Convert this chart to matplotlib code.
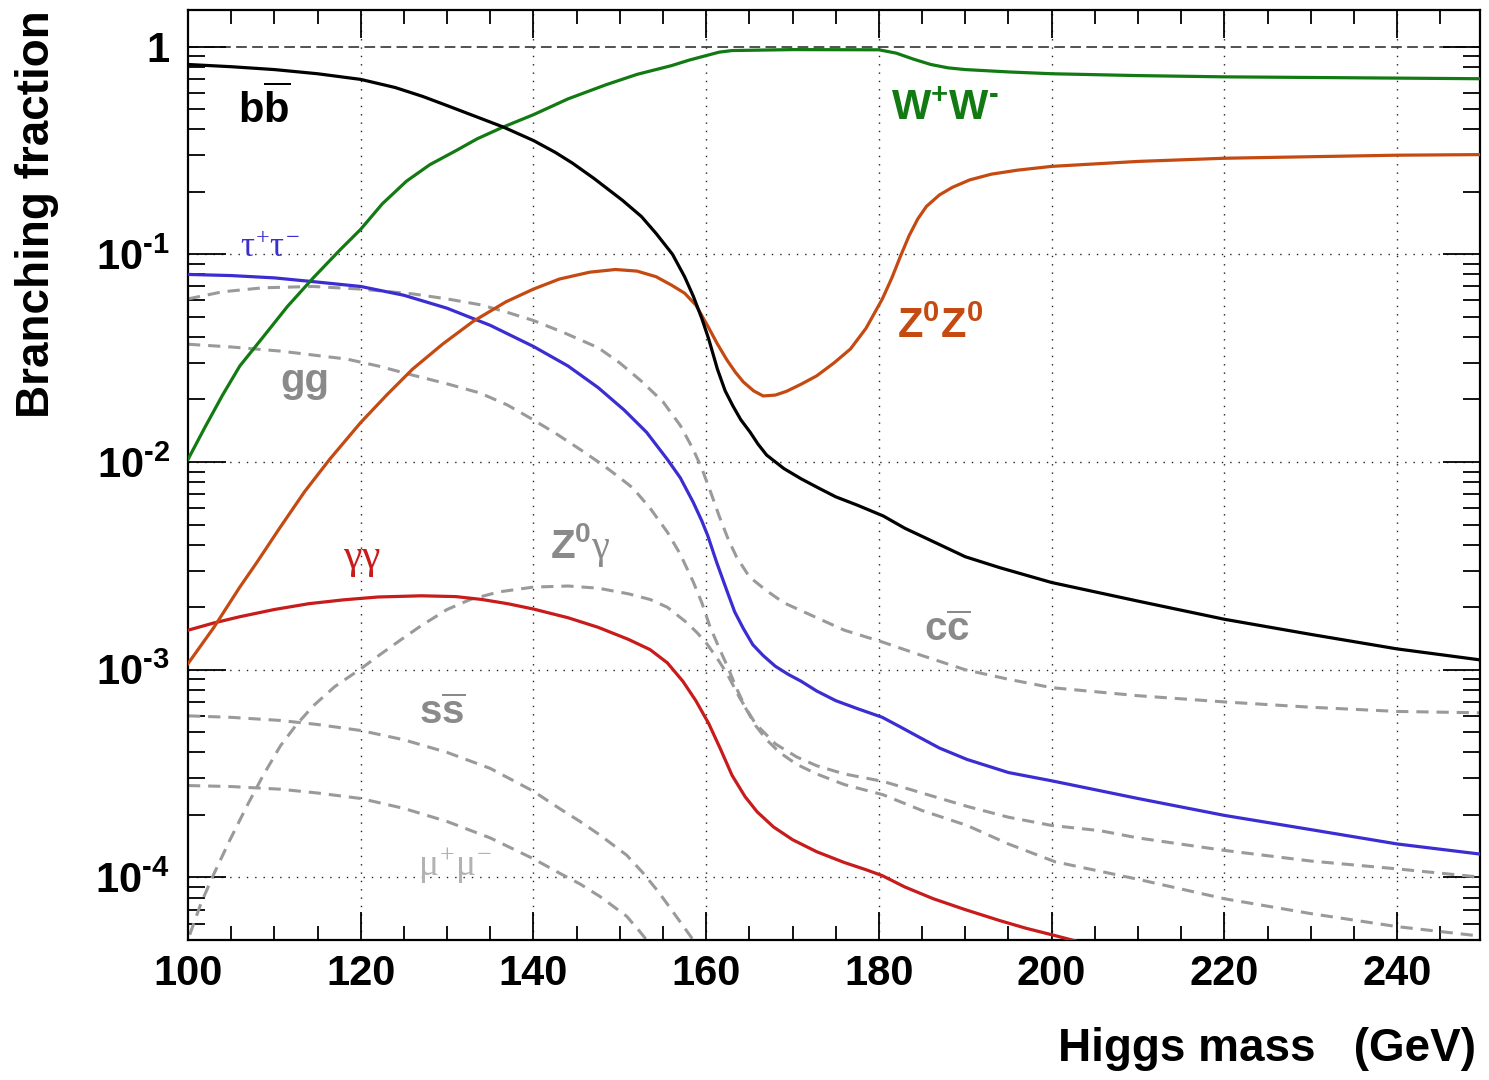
import matplotlib
matplotlib.use("Agg")
import matplotlib.pyplot as plt
from matplotlib.ticker import FixedLocator, FixedFormatter, MultipleLocator, LogLocator

# values (Higgs mass in GeV, branching fraction)
bb_mass = [100, 105, 110, 115, 120, 124, 127.2, 130, 133, 136.5, 140, 142.5, 144.5, 147, 150.3, 152.5, 154.2, 156.1,
           157.5, 158.5, 159.5, 160.3, 161.3, 162.2, 163.1, 164, 165.1, 166, 167, 169, 171, 173, 175, 177.5, 180.5,
           183, 186.5, 190, 194, 200, 210, 220, 230, 240, 250]
bb_br = [0.82, 0.80, 0.775, 0.74, 0.695, 0.635, 0.575, 0.52, 0.466, 0.41, 0.353, 0.31, 0.275, 0.232, 0.182, 0.152,
         0.126, 0.10, 0.078, 0.063, 0.049, 0.039, 0.028, 0.022, 0.0186, 0.016, 0.0139, 0.0122, 0.0108, 0.0093,
         0.0083, 0.0075, 0.0068, 0.0062, 0.0055, 0.0048, 0.0041, 0.0035, 0.0031, 0.00263, 0.00214, 0.00175,
         0.00148, 0.00126, 0.00111]

ww_mass = [100, 102, 104, 106, 108.7, 111.5, 114.5, 117.6, 120, 122.5, 125.3, 128, 131, 133.5, 136.5, 140, 144,
           148.4, 152, 156, 158, 160, 161.5, 163, 170, 180, 182, 184, 186, 188, 190, 195, 200, 210, 220, 230, 240,
           250]
ww_br = [0.0103, 0.0148, 0.021, 0.029, 0.040, 0.056, 0.077, 0.105, 0.132, 0.175, 0.225, 0.27, 0.315, 0.36, 0.41,
         0.47, 0.56, 0.655, 0.735, 0.81, 0.86, 0.905, 0.94, 0.957, 0.967, 0.965, 0.93, 0.87, 0.82, 0.79, 0.775,
         0.755, 0.74, 0.725, 0.715, 0.71, 0.705, 0.70]

zz_mass = [100, 103, 106, 108, 110.6, 113.5, 116.4, 120, 123, 126, 129.5, 133, 136.8, 140, 143, 146.5, 149.5, 152,
           154.2, 156, 157.5, 158.8, 160.2, 161.3, 162.4, 163.4, 164.3, 165.5, 166.6, 168, 169.3, 171, 172.8, 174.8,
           176.7, 178.5, 180.4, 181.5, 182.5, 183.5, 184.5, 185.5, 187, 188.5, 190.5, 193, 196, 200, 210, 220, 230,
           240, 250]
zz_br = [0.00107, 0.0016, 0.0025, 0.0033, 0.0048, 0.0072, 0.0103, 0.0155, 0.021, 0.028, 0.037, 0.0475, 0.059, 0.068,
         0.076, 0.082, 0.0845, 0.083, 0.078, 0.071, 0.065, 0.057, 0.045, 0.037, 0.031, 0.027, 0.0243, 0.022, 0.0208,
         0.021, 0.0219, 0.0237, 0.026, 0.030, 0.035, 0.044, 0.061, 0.077, 0.098, 0.123, 0.148, 0.170, 0.193, 0.21,
         0.228, 0.243, 0.254, 0.265, 0.28, 0.29, 0.295, 0.30, 0.302]

tau_mass = [100, 105, 110, 115, 120, 125, 130, 135, 140, 144, 147.5, 150.5, 153.1, 155.5, 157, 158.5, 159.5, 160.2,
            161.2, 162.4, 163.3, 164.3, 165.4, 166.6, 168, 169.5, 171, 172.8, 175, 177.5, 180.4, 182.5, 184.4, 187,
            190.2, 195, 200, 210, 220, 230, 240, 250]
tau_br = [0.080, 0.079, 0.077, 0.0735, 0.070, 0.0635, 0.055, 0.0455, 0.036, 0.029, 0.0228, 0.0178, 0.0139, 0.0103,
          0.0084, 0.0064, 0.0052, 0.0044, 0.0033, 0.0024, 0.0019, 0.00158, 0.00132, 0.00117, 0.00104, 0.00095,
          0.00088, 0.00079, 0.00071, 0.00065, 0.00059, 0.00053, 0.00048, 0.00042, 0.00037, 0.00032, 0.000292,
          0.00024, 0.000199, 0.00017, 0.000145, 0.000129]

gaga_mass = [100, 103, 106, 110, 114, 118, 122, 127, 131, 134, 137, 140, 144, 147.5, 151, 153.5, 155.5, 157.3, 158.8,
             160.3, 161.6, 163, 164.5, 165.9, 167.8, 170, 172.8, 176, 178.5, 180.4, 183, 186.3, 190, 194, 197, 200.4,
             204]
gaga_br = [1.55e-3, 1.68e-3, 1.8e-3, 1.95e-3, 2.08e-3, 2.17e-3, 2.24e-3, 2.27e-3, 2.25e-3, 2.18e-3, 2.08e-3,
           1.96e-3, 1.78e-3, 1.6e-3, 1.4e-3, 1.25e-3, 1.08e-3, 8.8e-4, 7.1e-4, 5.5e-4, 4.2e-4, 3.1e-4, 2.45e-4,
           2.07e-4, 1.75e-4, 1.52e-4, 1.33e-4, 1.18e-4, 1.09e-4, 1.02e-4, 9.0e-5, 7.9e-5, 7.0e-5, 6.2e-5, 5.7e-5,
           5.25e-5, 4.8e-5]

gg_mass = [100, 104, 108.7, 114.5, 120, 126, 130, 134, 137, 140, 143.5, 147.5, 150, 152.5, 155, 157, 158.5, 159.5,
           160.5, 161.5, 162.5, 163.5, 165, 167, 169, 172.8, 176, 180.4, 185, 190, 195, 200, 210, 220, 230, 240, 250]
gg_br = [0.061, 0.066, 0.069, 0.070, 0.068, 0.0645, 0.061, 0.057, 0.0525, 0.048, 0.042, 0.0355, 0.030, 0.0245,
         0.0195, 0.0150, 0.0115, 0.0093, 0.0072, 0.0055, 0.0043, 0.0035, 0.0028, 0.0024, 0.0021, 0.00178, 0.00155,
         0.00136, 0.00117, 0.00100, 0.00090, 0.00082, 0.00075, 0.00070, 0.00066, 0.00063, 0.00062]

cc_mass = [100, 105, 110.7, 118.4, 122, 126, 130, 133.8, 137, 139.6, 142.5, 145.4, 148, 150, 151.5, 153.5, 155.5, 157,
           158.5, 159.5, 160.4, 161.4, 162.4, 163.6, 164.6, 165.7, 167, 168.5, 170.5, 172.8, 176, 180.5, 185, 190.2,
           195, 200.4, 210, 220, 230, 240, 250]
cc_br = [0.0369, 0.0358, 0.0342, 0.0313, 0.029, 0.0262, 0.0238, 0.0215, 0.0188, 0.0163, 0.0138, 0.0115, 0.0097,
         0.0084, 0.0075, 0.006, 0.0046, 0.0036, 0.00265, 0.0021, 0.00163, 0.0013, 0.00105, 8.0e-4, 6.5e-4, 5.4e-4,
         4.6e-4, 4.0e-4, 3.5e-4, 3.15e-4, 2.8e-4, 2.5e-4, 2.1e-4, 1.78e-4, 1.45e-4, 1.19e-4, 9.8e-5, 7.9e-5, 6.7e-5,
         5.8e-5, 5.2e-5]

zg_mass = [100.2, 101.5, 102.9, 104.8, 106.8, 108.7, 110.7, 112.5, 114.5, 117, 120, 122.2, 124.5, 127, 130, 132.7,
           136, 140, 144, 147.5, 151, 153.5, 155.5, 157.8, 159, 160.1, 161.3, 162.4, 163.9, 165.7, 168, 170.5, 172.8,
           176, 180.5, 185, 190.2, 195, 200, 205.6, 210, 220, 230, 240, 250]
zg_br = [5.3e-5, 7.5e-5, 1.02e-4, 1.5e-4, 2.2e-4, 3.1e-4, 4.3e-4, 5.4e-4, 6.7e-4, 8.3e-4, 1.01e-3, 1.18e-3, 1.38e-3,
         1.63e-3, 1.95e-3, 2.18e-3, 2.37e-3, 2.5e-3, 2.53e-3, 2.47e-3, 2.32e-3, 2.18e-3, 2.0e-3, 1.68e-3, 1.5e-3,
         1.33e-3, 1.13e-3, 9.6e-4, 7.3e-4, 5.5e-4, 4.4e-4, 3.8e-4, 3.45e-4, 3.15e-4, 2.9e-4, 2.55e-4, 2.2e-4,
         1.95e-4, 1.78e-4, 1.68e-4, 1.55e-4, 1.35e-4, 1.2e-4, 1.1e-4, 1.0e-4]

ss_mass = [100, 105, 110.7, 115, 120, 125, 130, 135, 140, 143, 145.4, 147.7, 150.8, 152.7, 154.5, 156.3, 158.5]
ss_br = [6.0e-4, 5.9e-4, 5.7e-4, 5.45e-4, 5.1e-4, 4.6e-4, 4.0e-4, 3.35e-4, 2.6e-4, 2.15e-4, 1.86e-4, 1.6e-4, 1.28e-4,
         1.05e-4, 8.5e-5, 6.7e-5, 5.0e-5]

mumu_mass = [100, 105, 110.7, 115, 120, 125, 130, 135, 140, 143, 145.4, 147.7, 150.8, 152.3, 154]
mumu_br = [2.77e-4, 2.74e-4, 2.66e-4, 2.55e-4, 2.4e-4, 2.15e-4, 1.86e-4, 1.55e-4, 1.23e-4, 1.05e-4, 9.3e-5, 8.1e-5,
           6.5e-5, 5.5e-5, 4.5e-5]

x_ticks = [100, 120, 140, 160, 180, 200, 220, 240]
y_ticks = [1e-4, 1e-3, 1e-2, 1e-1, 1]
y_tick_labels = [r'$\mathbf{10^{‐4}}$', r'$\mathbf{10^{‐3}}$', r'$\mathbf{10^{‐2}}$', r'$\mathbf{10^{‐1}}$', '1']

plt.rcParams['font.family'] = ['Liberation Sans', 'DejaVu Sans']
plt.rcParams['font.weight'] = 'bold'
plt.rcParams['mathtext.fontset'] = 'custom'
plt.rcParams['mathtext.rm'] = 'Liberation Serif:weight=normal'
plt.rcParams['mathtext.it'] = 'Liberation Serif:weight=normal'
plt.rcParams['mathtext.bf'] = 'Liberation Sans:bold'

GREEN = '#127a12'
ORANGE = '#c44a12'
BLUE = '#3b2dd2'
RED = '#c81b1b'
GRAY = '#9a9a9a'
LABEL_GRAY = '#8a8a8a'

fig = plt.figure(figsize=(14.89, 10.80), dpi=100)
ax = fig.add_axes([188 / 1489, 1 - 940 / 1080, 1292 / 1489, 930 / 1080])
ax.set_yscale('log')
ax.set_xlim(100, 249.6)
ax.set_ylim(5e-5, 1.5)

# grid and the dashed line at 1
for xt in x_ticks[1:]:
    ax.axvline(xt, color='#222222', lw=1.0, ls=(0, (1, 5)), zorder=1)
for yt in y_ticks[:-1]:
    ax.axhline(yt, color='#222222', lw=1.0, ls=(0, (1, 5)), zorder=1)
ax.axhline(1.0, color='#222222', lw=1.1, ls=(0, (7, 3.5)), zorder=1)

dash = (0, (4, 2.6))
for m, br in [(gg_mass, gg_br), (cc_mass, cc_br), (zg_mass, zg_br), (ss_mass, ss_br), (mumu_mass, mumu_br)]:
    ax.plot(m, br, color=GRAY, lw=2.2, ls=dash, zorder=2)

ax.plot(gaga_mass, gaga_br, color=RED, lw=2.3, zorder=3)
ax.plot(tau_mass, tau_br, color=BLUE, lw=2.3, zorder=3)
ax.plot(zz_mass, zz_br, color=ORANGE, lw=2.3, zorder=3)
ax.plot(ww_mass, ww_br, color=GREEN, lw=2.3, zorder=3)
ax.plot(bb_mass, bb_br, color='black', lw=2.3, zorder=4)

# curve labels
ax.text(108.9, 0.50, r'$\mathbf{b\overline{b}}$', color='black', fontsize=30, ha='center', va='center')
ax.text(187.7, 0.50, r'$\mathbf{W^{+}W^{‐}}$', color=GREEN, fontsize=30, ha='center', va='center')
ax.text(187.1, 0.045, r'$\mathbf{Z^{0}Z^{0}}$', color=ORANGE, fontsize=30, ha='center', va='center')
ax.text(109.5, 0.108, r'$\tau^{+}\tau^{-}$', color=BLUE, fontsize=25, ha='center', va='center')
ax.text(113.5, 0.0245, 'gg', color=LABEL_GRAY, fontsize=29, ha='center', va='center')
ax.text(145.4, 0.0040, r'$\mathbf{Z^{0}}\gamma$', color=LABEL_GRAY, fontsize=29, ha='center', va='center')
ax.text(120.1, 0.0034, r'$\gamma\gamma$', color=RED, fontsize=30, ha='center', va='center')
ax.text(187.9, 0.00155, r'$\mathbf{c\overline{c}}$', color=LABEL_GRAY, fontsize=29, ha='center', va='center')
ax.text(129.5, 0.00062, r'$\mathbf{s\overline{s}}$', color=LABEL_GRAY, fontsize=29, ha='center', va='center')
ax.text(130.9, 0.000115, r'$\mu^{+}\mu^{-}$', color='#b2b2b2', fontsize=27, ha='center', va='center')

# axes, ticks
ax.xaxis.set_major_locator(FixedLocator(x_ticks))
ax.xaxis.set_major_formatter(FixedFormatter([str(x) for x in x_ticks]))
ax.xaxis.set_minor_locator(MultipleLocator(5))
ax.yaxis.set_major_locator(FixedLocator(y_ticks))
ax.yaxis.set_major_formatter(FixedFormatter(y_tick_labels))
ax.yaxis.set_minor_locator(LogLocator(base=10, subs=range(2, 10)))
ax.yaxis.set_minor_formatter(FixedFormatter([]))

ax.tick_params(axis='both', which='both', direction='in', top=True, right=True, width=1.3, colors='black')
ax.tick_params(axis='x', which='major', length=20, pad=10, labelsize=30)
ax.tick_params(axis='x', which='minor', length=10)
ax.tick_params(axis='y', which='major', length=27, pad=13, labelsize=30)
ax.tick_params(axis='y', which='minor', length=12)
for s in ax.spines.values():
    s.set_linewidth(1.6)

fig.text(37 / 1489, 1 - 10 / 1080, 'Branching fraction', rotation=90, ha='center', va='top', fontsize=33,
         fontweight='bold')
fig.text(1476 / 1489, 1 - 1027 / 1080, 'Higgs mass   (GeV)', ha='right', va='top', fontsize=33,
         fontweight='bold')

fig.savefig('out.png', dpi=100)
